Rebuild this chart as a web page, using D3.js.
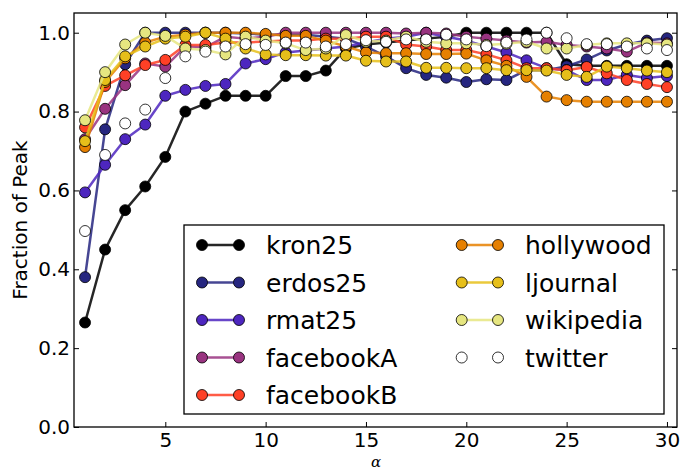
<!DOCTYPE html>
<html><head><meta charset="utf-8">
<script src="https://cdn.jsdelivr.net/npm/d3@7"></script>
<style>
html,body{margin:0;padding:0;background:#fff;}
svg{display:block;font-family:"DejaVu Sans",sans-serif;}
</style></head>
<body><svg id="c" width="682" height="472"></svg>
<script>
const alphas = [1,2,3,4,5,6,7,8,9,10,11,12,13,14,15,16,17,18,19,20,21,22,23,24,25,26,27,28,29,30];
const seriesNames = ["kron25","erdos25","rmat25","facebookA","facebookB","hollywood","ljournal","wikipedia","twitter"];
const kron25 = [0.265,0.45,0.55,0.61,0.685,0.80,0.82,0.84,0.84,0.84,0.89,0.89,0.904,0.96,0.97,0.975,0.98,0.985,0.99,1.0,1.0,1.0,1.0,1.0,0.92,0.916,0.916,0.916,0.916,0.916];
const erdos25 = [0.38,0.755,0.92,1.0,1.0,1.0,1.0,1.0,0.998,0.995,0.995,0.995,0.99,0.985,0.965,0.94,0.91,0.893,0.886,0.875,0.882,0.88,0.905,0.905,0.915,0.932,0.955,0.97,0.98,0.986];
const rmat25 = [0.595,0.665,0.73,0.767,0.84,0.855,0.865,0.87,0.922,0.933,0.95,0.955,0.96,0.965,0.975,0.985,0.99,1.0,0.99,0.98,0.965,0.95,0.93,0.91,0.905,0.88,0.88,0.893,0.885,0.89];
const facebookA = [0.73,0.807,0.867,0.922,0.914,0.965,0.963,0.99,0.985,0.99,1.0,1.0,1.0,1.0,1.0,1.0,0.998,1.0,0.998,0.99,0.985,0.98,0.975,0.977,0.969,0.965,0.96,0.952,0.975,0.973];
const facebookB = [0.76,0.865,0.892,0.918,0.931,0.969,0.969,0.975,0.975,0.978,0.98,0.98,0.985,0.985,0.99,0.99,0.97,0.965,0.956,0.956,0.945,0.93,0.91,0.91,0.905,0.913,0.897,0.88,0.87,0.862];
const hollywood = [0.71,0.875,0.935,0.975,0.99,0.995,1.0,1.0,1.0,0.997,0.992,0.992,0.98,0.965,0.95,0.948,0.948,0.946,0.946,0.947,0.93,0.916,0.888,0.838,0.829,0.825,0.825,0.825,0.825,0.825];
const ljournal = [0.725,0.88,0.94,0.965,0.985,0.99,1.0,0.985,0.96,0.945,0.943,0.943,0.942,0.942,0.929,0.927,0.927,0.911,0.911,0.91,0.91,0.905,0.905,0.904,0.893,0.888,0.914,0.91,0.904,0.9];
const wikipedia = [0.778,0.9,0.97,1.0,0.992,0.96,0.956,0.945,0.99,0.98,0.973,0.956,0.96,0.994,0.977,0.98,0.99,0.977,0.973,0.973,0.969,0.972,0.977,0.96,0.96,0.969,0.973,0.973,0.973,0.97];
const twitter = [0.497,0.69,0.77,0.805,0.885,0.94,0.952,0.965,0.971,0.969,0.975,0.975,0.965,0.971,0.981,0.977,0.983,0.983,0.995,0.983,0.966,0.975,0.983,1.0,0.986,0.971,0.971,0.965,0.96,0.956];
const seriesValues = [kron25,erdos25,rmat25,facebookA,facebookB,hollywood,ljournal,wikipedia,twitter];
const colors = ["#000000","#262680","#4d26bf","#993380","#ff4026","#e68000","#e6bf1a","#e6e680","#ffffff"];
const hasLine = [true,true,true,true,true,true,true,true,false];
const xTicks = [5,10,15,20,25,30];
const yTicks = [0.0,0.2,0.4,0.6,0.8,1.0];

const svg = d3.select("#c");
const L=74, R=677, T=13, B=427;
const x = d3.scaleLinear().domain([0.45,30.5]).range([L,R]);
const y = d3.scaleLinear().domain([0,1.05]).range([B,T]);

// series
const line = d3.line().x((d,i)=>x(alphas[i])).y(d=>y(d));
const g = svg.append("g");
seriesValues.forEach((vals,k)=>{
  const sg = g.append("g");
  if(hasLine[k]) sg.append("path").attr("d",line(vals)).attr("fill","none")
     .attr("stroke",colors[k]).attr("stroke-width",2.5).attr("stroke-opacity",0.85).attr("stroke-linejoin","round");
  sg.selectAll("circle").data(vals).enter().append("circle")
    .attr("cx",(d,i)=>x(alphas[i])).attr("cy",d=>y(d)).attr("r",5.5)
    .attr("fill",colors[k]).attr("stroke","#000").attr("stroke-width",0.8);
});

// axes
const fmt = d3.format(".1f");
const ax = svg.append("g").attr("transform",`translate(0,${B})`)
  .call(d3.axisBottom(x).tickValues(xTicks).tickSizeInner(-5).tickSizeOuter(0).tickPadding(6));
const ay = svg.append("g").attr("transform",`translate(${L},0)`)
  .call(d3.axisLeft(y).tickValues(yTicks).tickFormat(fmt).tickSizeInner(-5).tickSizeOuter(0).tickPadding(4));
const at = svg.append("g").attr("transform",`translate(0,${T})`)
  .call(d3.axisTop(x).tickValues(xTicks).tickFormat("").tickSizeInner(-5).tickSizeOuter(0));
const ar = svg.append("g").attr("transform",`translate(${R},0)`)
  .call(d3.axisRight(y).tickValues(yTicks).tickFormat("").tickSizeInner(-5).tickSizeOuter(0));
[ax,ay,at,ar].forEach(a=>{
  a.select(".domain").remove();
  a.selectAll(".tick line").attr("stroke","#000").attr("stroke-width",1);
  a.selectAll("text").attr("font-size",20).attr("fill","#000").attr("font-family","DejaVu Sans");
});
svg.append("rect").attr("x",L).attr("y",T).attr("width",R-L).attr("height",B-T)
  .attr("fill","none").attr("stroke","#000").attr("stroke-width",1.3);

// labels
svg.append("text").attr("transform",`translate(27,${(T+B)/2}) rotate(-90)`)
  .attr("text-anchor","middle").attr("font-size",20).text("Fraction of Peak");
svg.append("text").attr("x",x(15.5)).attr("y",466.5).attr("text-anchor","middle")
  .attr("font-family","DejaVu Serif").attr("font-style","italic").attr("font-size",15).text("α");

// legend
const lg = svg.append("g");
lg.append("rect").attr("x",184).attr("y",225).attr("width",480).attr("height",189)
  .attr("fill","#fff").attr("stroke","#000").attr("stroke-width",1.3);
seriesNames.forEach((name,k)=>{
  const col = k<5?0:1, row = k<5?k:k-5;
  const cy = 245 + row*37.5;
  const m1 = col===0?202:461.7, m2 = col===0?239:498, tx = col===0?266:525;
  if(hasLine[k]) lg.append("line").attr("x1",m1).attr("x2",m2).attr("y1",cy).attr("y2",cy)
     .attr("stroke",colors[k]).attr("stroke-width",2.5).attr("stroke-opacity",0.85);
  [m1,m2].forEach(mx=>lg.append("circle").attr("cx",mx).attr("cy",cy).attr("r",5.5)
     .attr("fill",colors[k]).attr("stroke","#000").attr("stroke-width",0.8));
  lg.append("text").attr("x",tx).attr("y",cy+9).attr("font-size",25).text(name);
});
</script></body></html>
